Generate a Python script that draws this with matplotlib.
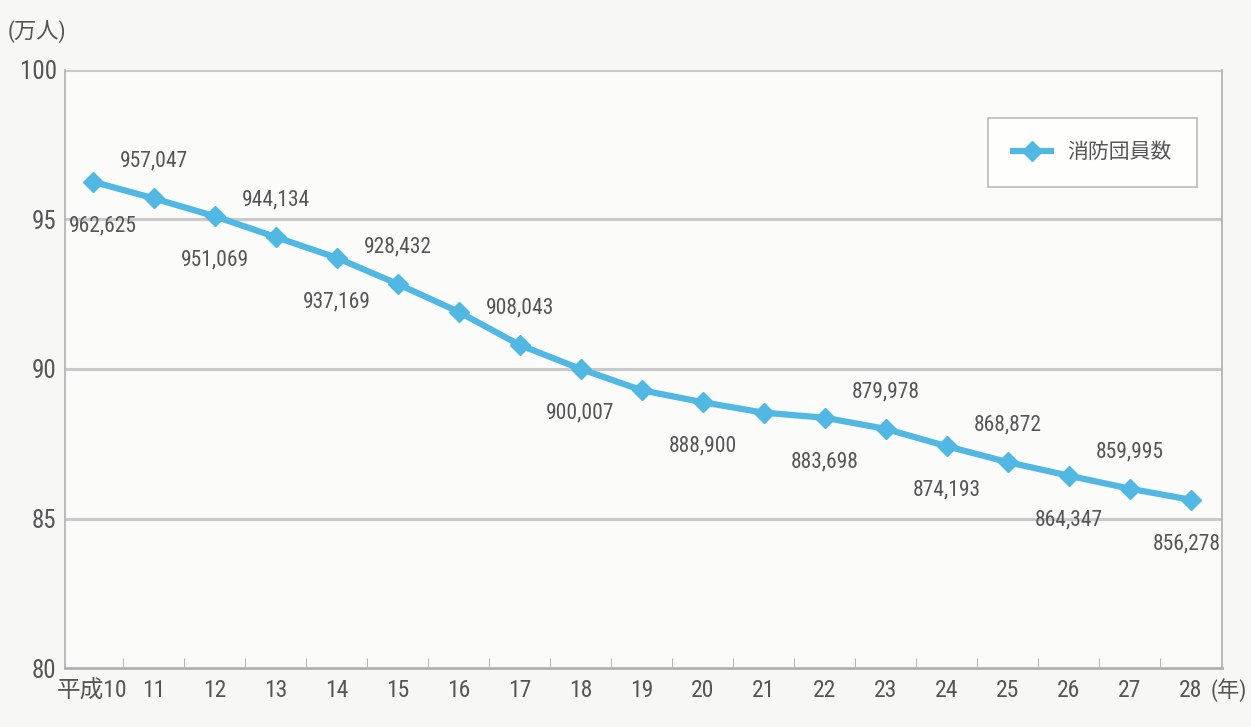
import numpy as np
import matplotlib.pyplot as plt

plt.rcParams['font.family'] = ['Roboto Condensed', 'Noto Sans CJK JP', 'DejaVu Sans']

years = ['平成10', '11', '12', '13', '14', '15', '16', '17', '18', '19',
         '20', '21', '22', '23', '24', '25', '26', '27', '28']
members = [962625, 957047, 951069, 944134, 937169, 928432, 919105, 908043,
           900007, 892893, 888900, 885394, 883698, 879978, 874193, 868872,
           864347, 859995, 856278]
# which points get a value label, and where (+1 above, -1 below)
label_side = [-1, 1, -1, 1, -1, 1, 0, 1, -1, 0, -1, 0, -1, 1, -1, 1, -1, 1, -1]

x = np.arange(len(years))
y = np.array(members) / 10000

txt = '#555555'
blue = '#50b8e2'
grid = '#c9c9c9'

fig = plt.figure(figsize=(12.51, 7.27), dpi=100, facecolor='#f7f7f5')
ax = fig.add_axes([0.052, 0.081, 0.925, 0.823])
ax.set_facecolor('#fbfbfa')

ax.set_xlim(-0.45, 18.52)
ax.set_ylim(80, 100)

for g in [85, 90, 95, 100]:
    ax.axhline(g, color=grid, lw=2.2, zorder=1)

ax.plot(x, y, color=blue, lw=4.5, marker='D', ms=10, mfc=blue, mec=blue,
        label='消防団員数', zorder=3)

for i, (xi, yi, v, s) in enumerate(zip(x, y, members, label_side)):
    if s == 0:
        continue
    off = 37 if s > 0 else -44
    dx = 0
    if i == 0:
        dx = 10
    elif i == len(x) - 1:
        dx = -4
    ax.annotate(f'{v:,}', (xi, yi), xytext=(dx, off), textcoords='offset pixels',
                ha='center', va='center', fontsize=15.5, color=txt, zorder=4)

ax.set_xticks(x)
ax.set_xticklabels(years)
ax.set_xticks(x[:-1] + 0.5, minor=True)
ax.tick_params(axis='x', which='major', length=0, labelsize=17, colors=txt, pad=8)
ax.tick_params(axis='x', which='minor', direction='in', length=7, color='#aaaaaa')
ax.set_yticks([80, 85, 90, 95, 100])
ax.tick_params(axis='y', length=0, labelsize=18, colors=txt, pad=6)

for side in ['left', 'bottom', 'right']:
    ax.spines[side].set_color('#b0b0b0')
    ax.spines[side].set_linewidth(1.2)
ax.spines['bottom'].set_linewidth(2)
ax.spines['top'].set_visible(False)

fig.text(0.006, 0.955, '(万人)', fontsize=16, color=txt, ha='left', va='center')
fig.text(0.968, 0.051, '(年)', fontsize=16, color=txt, ha='left', va='center')

leg = ax.legend(loc='upper right', bbox_to_anchor=(0.978, 0.92), fontsize=15,
                handlelength=1.8, frameon=True, fancybox=False, borderpad=1.2,
                borderaxespad=0, labelcolor=txt)
leg.get_frame().set_edgecolor('#aaaaaa')
leg.get_frame().set_linewidth(1.2)

fig.savefig('out.png', dpi=100, facecolor=fig.get_facecolor())
